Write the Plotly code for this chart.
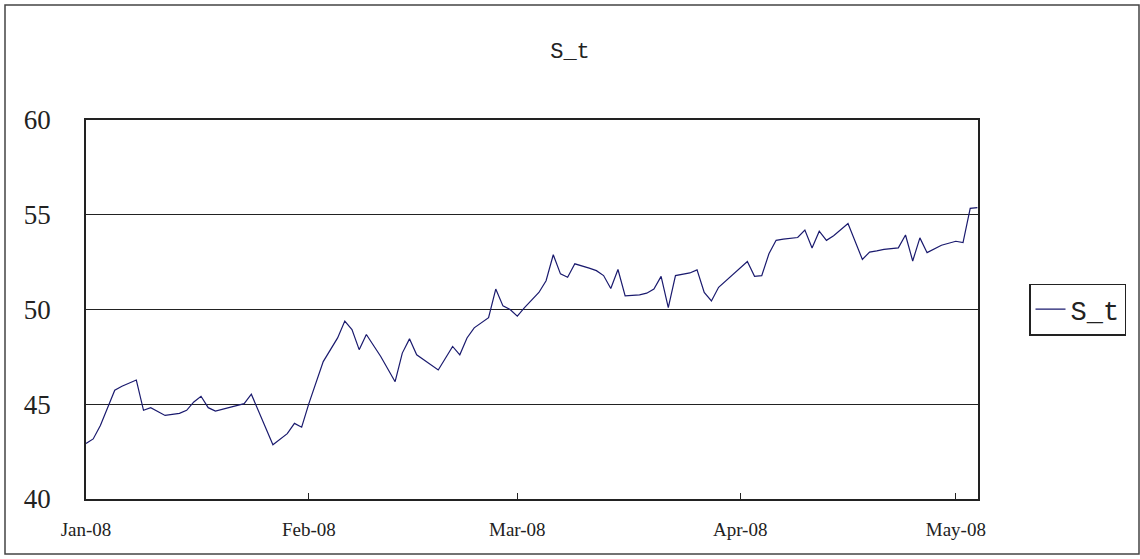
import plotly.graph_objects as go

dates = [
    "2008-01-01", "2008-01-02", "2008-01-03", "2008-01-05", "2008-01-06", "2008-01-07",
    "2008-01-08", "2008-01-09", "2008-01-10", "2008-01-12", "2008-01-14", "2008-01-15",
    "2008-01-16", "2008-01-17", "2008-01-18", "2008-01-19", "2008-01-21", "2008-01-23",
    "2008-01-24", "2008-01-27", "2008-01-29", "2008-01-30", "2008-01-31", "2008-02-01",
    "2008-02-03", "2008-02-04", "2008-02-05", "2008-02-06", "2008-02-07", "2008-02-08",
    "2008-02-09", "2008-02-11", "2008-02-13", "2008-02-14", "2008-02-15", "2008-02-16",
    "2008-02-17", "2008-02-19", "2008-02-21", "2008-02-22", "2008-02-23", "2008-02-24",
    "2008-02-26", "2008-02-27", "2008-02-28", "2008-02-29", "2008-03-01",
    "2008-03-02", "2008-03-04", "2008-03-05", "2008-03-06", "2008-03-07", "2008-03-08",
    "2008-03-09", "2008-03-11", "2008-03-12", "2008-03-13", "2008-03-14", "2008-03-15",
    "2008-03-16", "2008-03-18", "2008-03-19", "2008-03-20", "2008-03-21", "2008-03-22",
    "2008-03-23", "2008-03-25", "2008-03-26", "2008-03-27", "2008-03-28", "2008-03-29",
    "2008-03-31",
    "2008-04-02", "2008-04-03", "2008-04-04", "2008-04-05", "2008-04-06", "2008-04-07",
    "2008-04-08", "2008-04-09", "2008-04-10", "2008-04-11", "2008-04-12", "2008-04-13",
    "2008-04-14", "2008-04-16", "2008-04-18", "2008-04-19", "2008-04-20", "2008-04-21",
    "2008-04-23", "2008-04-24", "2008-04-25", "2008-04-26", "2008-04-27", "2008-04-29",
    "2008-05-01", "2008-05-02", "2008-05-03", "2008-05-04",
]

s_t = [
    42.93, 43.17, 43.88, 45.74, 45.95, 46.10,
    46.28, 44.68, 44.82, 44.41, 44.52, 44.68,
    45.12, 45.42, 44.82, 44.64, 44.82, 45.03,
    45.53, 42.86, 43.45, 43.99, 43.79, 45.03,
    47.25, 47.88, 48.50, 49.39, 48.94, 47.88,
    48.68, 47.52, 46.19, 47.70, 48.45, 47.61,
    47.34, 46.81, 48.05, 47.61, 48.50, 49.03,
    49.57, 51.08, 50.19, 50.00, 49.65,
    50.10, 50.90, 51.52, 52.89, 51.88, 51.70,
    52.41, 52.18, 52.05, 51.79, 51.11, 52.11,
    50.72, 50.77, 50.86, 51.08, 51.75, 50.10,
    51.79, 51.93, 52.09, 50.90, 50.45, 51.17,
    51.86,
    52.53, 51.75, 51.79, 52.94, 53.65, 53.71,
    53.74, 53.80, 54.19, 53.25, 54.13, 53.65,
    53.89, 54.54, 52.64, 53.03, 53.09, 53.17,
    53.25, 53.93, 52.56, 53.78, 53.00, 53.39,
    53.60, 53.53, 55.34, 55.38,
]

series_name = "S_t"
chart_title = "S_t"
y_ticks = [40, 45, 50, 55, 60]

W, H = 1140, 559
L, R, T, B = 86, 978, 120, 499  # plot area in pixels

fig = go.Figure()
fig.add_trace(go.Scatter(
    x=dates, y=s_t, mode="lines", name=series_name,
    line=dict(color="#1a1a6e", width=1.2),
))

serif = "Liberation Serif, DejaVu Serif, serif"
mono = "Liberation Mono, DejaVu Sans Mono, monospace"

fig.update_layout(
    width=W, height=H,
    margin=dict(l=L, r=W - R, t=T, b=H - B, pad=0),
    paper_bgcolor="white", plot_bgcolor="white",
    title=dict(text=chart_title, x=0.5, xref="container", xanchor="center",
               y=1 - 50 / H, yref="container", yanchor="middle",
               font=dict(family=mono, size=22, color="#222")),
    showlegend=True,
    legend=dict(x=(1029 - L) / (R - L), xanchor="left", y=(B - 309.5) / (B - T), yanchor="middle",
                bordercolor="#222", borderwidth=1.5, bgcolor="white",
                font=dict(family=mono, size=27, color="#222"),
                itemwidth=30, tracegroupgap=0),
    xaxis=dict(
        type="date", range=["2008-01-01", "2008-05-04 02:00"],
        tick0="2008-01-01", dtick="M1", tickformat="%b-%y",
        showgrid=False, showline=True, linecolor="#222", linewidth=1.5,
        mirror=True, ticks="inside", ticklen=6, tickcolor="#222",
        ticklabelstandoff=12,
        tickfont=dict(family=serif, size=19, color="#222"),
        zeroline=False,
    ),
    yaxis=dict(
        range=[40, 60], tickvals=y_ticks,
        showgrid=True, gridcolor="#222", gridwidth=1.3,
        showline=True, linecolor="#222", linewidth=1.5, mirror=True,
        ticks="", ticklabelstandoff=28,
        tickfont=dict(family=serif, size=27, color="#222"),
        zeroline=False,
    ),
)

# outer chart border
fig.add_shape(type="rect", xref="paper", yref="paper",
              x0=(5 - L) / (R - L), x1=(1139 - L) / (R - L),
              y0=(B - 554) / (B - T), y1=(B - 5) / (B - T),
              line=dict(color="#444", width=1.5), fillcolor="rgba(0,0,0,0)", layer="below")

fig.write_html("out.html")
